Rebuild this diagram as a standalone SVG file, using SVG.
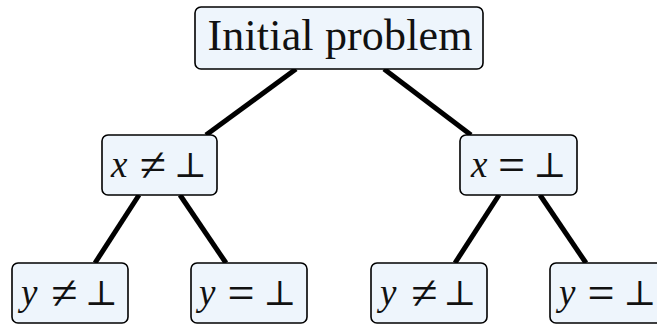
<svg xmlns="http://www.w3.org/2000/svg" width="657" height="325" viewBox="0 0 657 325">
<style>
.box{fill:#eef5fc;stroke:#000;stroke-width:1.6}
.t{font-family:"Liberation Serif","DejaVu Serif",serif;fill:#111}
.v{font-family:"Liberation Serif",serif;font-size:37px;font-style:italic;fill:#111}
.o{font-family:"Liberation Serif",serif;font-size:48px;fill:#111;text-anchor:middle}
.p{font-family:"DejaVu Serif",serif;font-size:35px;fill:#111;text-anchor:middle}
.e{stroke:#000;stroke-width:5;stroke-linecap:butt}
</style>
<rect width="657" height="325" fill="#fff"/>
<g id="connectors">
<line class="e" x1="296" y1="69" x2="206" y2="135"/>
<line class="e" x1="384" y1="69" x2="471" y2="135"/>
<line class="e" x1="139" y1="195" x2="95" y2="263"/>
<line class="e" x1="180" y1="195" x2="226" y2="263"/>
<line class="e" x1="499" y1="195" x2="455" y2="263"/>
<line class="e" x1="540" y1="195" x2="586" y2="263"/>
</g>
<g id="root">
<rect class="box" x="195" y="7" width="288" height="62" rx="6"/>
<text class="t" x="340" y="50" font-size="44" text-anchor="middle" textLength="265" lengthAdjust="spacing">Initial problem</text>
</g>
<g id="x-neq">
<rect class="box" x="102" y="135" width="115" height="60" rx="6"/>
<text class="v" x="111" y="177">x</text>
<text class="o" x="153" y="181">≠</text>
<text class="p" x="190.5" y="177">⊥</text>
</g>
<g id="x-eq">
<rect class="box" x="460" y="135" width="117" height="60" rx="6"/>
<text class="v" x="471" y="177">x</text>
<text class="o" x="511.5" y="181">=</text>
<text class="p" x="550" y="177">⊥</text>
</g>
<g id="y-neq-1">
<rect class="box" x="12" y="263" width="116" height="60" rx="6"/>
<text class="v" x="21" y="305">y</text>
<text class="o" x="64.5" y="309">≠</text>
<text class="p" x="101.5" y="305">⊥</text>
</g>
<g id="y-eq-1">
<rect class="box" x="191" y="263" width="116" height="60" rx="6"/>
<text class="v" x="199" y="305">y</text>
<text class="o" x="241" y="309">=</text>
<text class="p" x="280" y="305">⊥</text>
</g>
<g id="y-neq-2">
<rect class="box" x="371" y="263" width="116" height="60" rx="6"/>
<text class="v" x="380" y="305">y</text>
<text class="o" x="424.5" y="309">≠</text>
<text class="p" x="460" y="305">⊥</text>
</g>
<g id="y-eq-2">
<rect class="box" x="550" y="263" width="116" height="60" rx="6"/>
<text class="v" x="559" y="305">y</text>
<text class="o" x="601" y="309">=</text>
<text class="p" x="640" y="305">⊥</text>
</g>
</svg>
